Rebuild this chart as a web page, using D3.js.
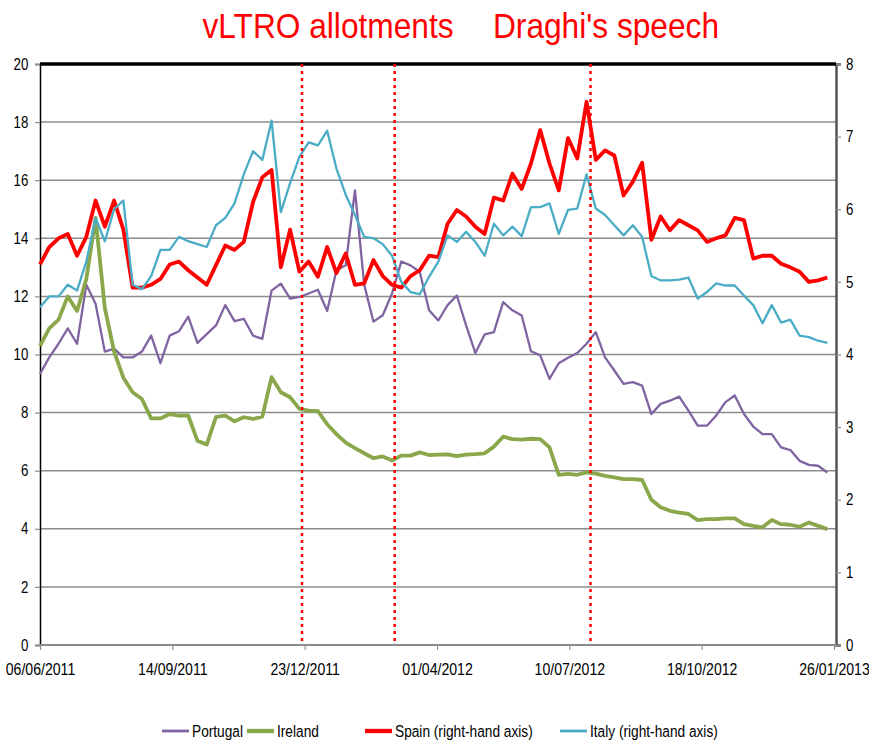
<!DOCTYPE html>
<html>
<head>
<meta charset="utf-8">
<script src="https://cdn.jsdelivr.net/npm/d3@7/dist/d3.min.js"></script>
<style>
    body { margin: 0; background: #fff; }
    text { font-family: "Liberation Sans", Arial, sans-serif; }
</style>
</head>
<body>
<div id="chart"></div>
<script>
// weekly observations starting on the first date
const startDate = "06/06/2011";
const stepDays = 7;

// left-hand axis
const portugal = [9.33, 9.9, 10.37, 10.9, 10.37, 12.4, 11.75, 10.1, 10.2, 9.9, 9.9, 10.1, 10.65, 9.7, 10.65, 10.8, 11.3, 10.4, 10.7, 11.0,
    11.7, 11.15, 11.23, 10.65, 10.54, 12.2, 12.44, 11.92, 11.98, 12.1, 12.23, 11.5, 12.9, 13.07, 15.65, 12.4, 11.13, 11.35, 12.1, 13.2,
    13.07, 12.84, 11.52, 11.17, 11.7, 12.03, 11.0, 10.05, 10.69, 10.77, 11.8, 11.52, 11.34, 10.11, 9.97, 9.16, 9.7, 9.89, 10.05, 10.37,
    10.77, 9.9, 9.45, 8.99, 9.05, 8.93, 7.95, 8.3, 8.41, 8.55, 8.07, 7.55, 7.55, 7.9, 8.36, 8.59, 7.95, 7.52, 7.26, 7.26,
    6.8, 6.71, 6.34, 6.2, 6.17, 5.94];
const ireland = [10.3, 10.9, 11.2, 12.0, 11.5, 12.6, 14.7, 11.6, 10.1, 9.2, 8.7, 8.47, 7.8, 7.8, 7.95, 7.9, 7.9, 7.03, 6.9, 7.85,
    7.9, 7.7, 7.84, 7.78, 7.86, 9.22, 8.7, 8.53, 8.13, 8.07, 8.05, 7.6, 7.26, 6.97, 6.78, 6.6, 6.43, 6.49, 6.35, 6.52,
    6.52, 6.63, 6.54, 6.55, 6.56, 6.5, 6.55, 6.57, 6.6, 6.83, 7.17, 7.09, 7.07, 7.1, 7.09, 6.8, 5.86, 5.89, 5.86, 5.94,
    5.9, 5.82, 5.77, 5.71, 5.71, 5.68, 5.0, 4.74, 4.62, 4.56, 4.51, 4.3, 4.33, 4.33, 4.36, 4.36, 4.16, 4.1, 4.05, 4.3,
    4.16, 4.14, 4.07, 4.22, 4.1, 3.99];
// right-hand axis
const spain = [5.24, 5.48, 5.6, 5.66, 5.36, 5.62, 6.12, 5.76, 6.12, 5.72, 4.92, 4.92, 4.96, 5.04, 5.24, 5.28, 5.16, 5.06, 4.96, 5.23,
    5.5, 5.44, 5.55, 6.1, 6.44, 6.54, 5.2, 5.72, 5.14, 5.28, 5.07, 5.48, 5.12, 5.39, 4.96, 4.98, 5.3, 5.08, 4.96, 4.92,
    5.08, 5.16, 5.36, 5.34, 5.8, 5.99, 5.9, 5.76, 5.66, 6.16, 6.12, 6.49, 6.28, 6.63, 7.09, 6.63, 6.26, 6.98, 6.7, 7.48,
    6.68, 6.81, 6.74, 6.19, 6.38, 6.64, 5.58, 5.9, 5.71, 5.85, 5.78, 5.71, 5.55, 5.6, 5.64, 5.88, 5.85, 5.32, 5.36, 5.36,
    5.25, 5.2, 5.14, 5.0, 5.02, 5.06];
const italy = [4.65, 4.8, 4.8, 4.96, 4.88, 5.28, 5.88, 5.56, 6.0, 6.12, 4.96, 4.9, 5.08, 5.44, 5.44, 5.62, 5.56, 5.52, 5.48, 5.78,
    5.88, 6.08, 6.48, 6.8, 6.68, 7.22, 5.96, 6.36, 6.72, 6.92, 6.88, 7.08, 6.56, 6.2, 5.92, 5.62, 5.6, 5.52, 5.36, 5.0,
    4.86, 4.83, 5.07, 5.28, 5.64, 5.55, 5.69, 5.55, 5.36, 5.8, 5.64, 5.76, 5.63, 6.03, 6.03, 6.08, 5.66, 5.99, 6.01, 6.48,
    6.01, 5.92, 5.78, 5.64, 5.78, 5.62, 5.08, 5.02, 5.02, 5.03, 5.06, 4.77, 4.86, 4.98, 4.95, 4.95, 4.81, 4.68, 4.43, 4.68,
    4.44, 4.48, 4.26, 4.24, 4.19, 4.16];

const tickDates = ["06/06/2011", "14/09/2011", "23/12/2011", "01/04/2012", "10/07/2012", "18/10/2012", "26/01/2013"];
const eventDates = ["21/12/2011", "29/02/2012", "26/07/2012"];
const leftTicks = [0, 2, 4, 6, 8, 10, 12, 14, 16, 18, 20];
const rightTicks = [0, 1, 2, 3, 4, 5, 6, 7, 8];
const seriesNames = ["Portugal", "Ireland", "Spain (right-hand axis)", "Italy (right-hand axis)"];
const seriesColors = ["#8064A2", "#8AA84B", "#FF0000", "#4BACC6"];
const seriesWidths = [2.3, 3.8, 3.8, 2.3];
const seriesAxis = ["left", "left", "right", "right"];
const titles = ["vLTRO allotments", "Draghi's speech"];

const W = 869, H = 741;
const margin = { top: 64, left: 40 };
const plotW = 796, plotH = 581;
// the source picture is squeezed sideways, so text is narrowed to match
const squeeze = "scale(0.83,1)";

const parse = d3.timeParse("%d/%m/%Y");
const fmt = d3.timeFormat("%d/%m/%Y");
const t0 = parse(startDate);
const dates = portugal.map((d, i) => d3.timeDay.offset(t0, i * stepDays));

const svg = d3.select("#chart").append("svg")
    .attr("width", W).attr("height", H);

// titles above the event lines
[[328, titles[0]], [606, titles[1]]].forEach(t => {
    svg.append("g").attr("transform", "translate(" + t[0] + ",38)")
        .append("text")
        .attr("transform", "scale(0.88,1)")
        .attr("text-anchor", "middle")
        .attr("font-size", 36).attr("fill", "#FF0000").text(t[1]);
});

const g = svg.append("g").attr("transform", "translate(" + margin.left + "," + margin.top + ")");

const x = d3.scaleTime()
    .domain([parse(tickDates[0]), parse(tickDates[tickDates.length - 1])])
    .range([0, 794]);
const yL = d3.scaleLinear().domain([0, 20]).range([plotH, 0]);
const yR = d3.scaleLinear().domain([0, 8]).range([plotH, 0]);

// gridlines
g.selectAll("line.grid")
    .data(leftTicks)
    .enter().append("line")
    .attr("class", "grid")
    .attr("x1", 0).attr("x2", plotW)
    .attr("y1", d => yL(d)).attr("y2", d => yL(d))
    .attr("stroke", "#8c8c8c").attr("stroke-width", 1.5);

// axes
const axL = g.append("g")
    .call(d3.axisLeft(yL).tickValues(leftTicks).tickSize(5).tickPadding(9));
const axR = g.append("g").attr("transform", "translate(" + plotW + ",0)")
    .call(d3.axisRight(yR).tickValues(rightTicks).tickSize(5).tickPadding(7));
const axB = g.append("g").attr("transform", "translate(0," + plotH + ")")
    .call(d3.axisBottom(x).tickValues(tickDates.map(parse)).tickFormat(fmt).tickSize(5).tickPadding(13));

[axL, axR, axB].forEach(a => {
    a.selectAll("text").attr("font-size", 16).attr("fill", "#000").attr("transform", squeeze);
    a.selectAll(".tick line").attr("stroke", "#8c8c8c").attr("stroke-width", 1.2);
});
axB.selectAll("text").attr("font-size", 17);
axL.select(".domain").attr("stroke", "#000").attr("stroke-width", 1.5);
axR.select(".domain").attr("stroke", "#555").attr("stroke-width", 2.5);
axB.select(".domain").attr("stroke", "#8c8c8c").attr("stroke-width", 2);
axB.select(".domain").attr("d", "M0,0H" + plotW);

// thick top border
g.append("line").attr("x1", 0).attr("x2", plotW).attr("y1", 0).attr("y2", 0)
    .attr("stroke", "#000").attr("stroke-width", 3.5);

// series
const seriesData = [portugal, ireland, spain, italy];
seriesData.forEach((vals, s) => {
    const y = seriesAxis[s] === "left" ? yL : yR;
    const line = d3.line()
        .x((d, i) => x(dates[i]))
        .y(d => y(d))
        .curve(d3.curveLinear);
    g.append("path")
        .datum(vals)
        .attr("d", line)
        .attr("fill", "none")
        .attr("stroke", seriesColors[s])
        .attr("stroke-width", seriesWidths[s])
        .attr("stroke-linejoin", "round");
});

// event markers
g.selectAll("line.event")
    .data(eventDates.map(parse))
    .enter().append("line")
    .attr("class", "event")
    .attr("x1", d => x(d)).attr("x2", d => x(d))
    .attr("y1", 0).attr("y2", plotH)
    .attr("stroke", "#FF0000").attr("stroke-width", 2.5)
    .attr("stroke-dasharray", "3,4");

// legend
const legendX = [162, 247, 365, 560];
seriesNames.forEach((name, s) => {
    const item = svg.append("g").attr("transform", "translate(" + legendX[s] + ",731)");
    item.append("line")
        .attr("x1", 0).attr("x2", 27)
        .attr("y1", 0).attr("y2", 0)
        .attr("stroke", seriesColors[s]).attr("stroke-width", seriesWidths[s] + 0.5);
    item.append("g").attr("transform", "translate(30,6)")
        .append("text")
        .attr("transform", squeeze)
        .attr("font-size", 16.5).attr("fill", "#000")
        .text(name);
});
</script>
</body>
</html>
